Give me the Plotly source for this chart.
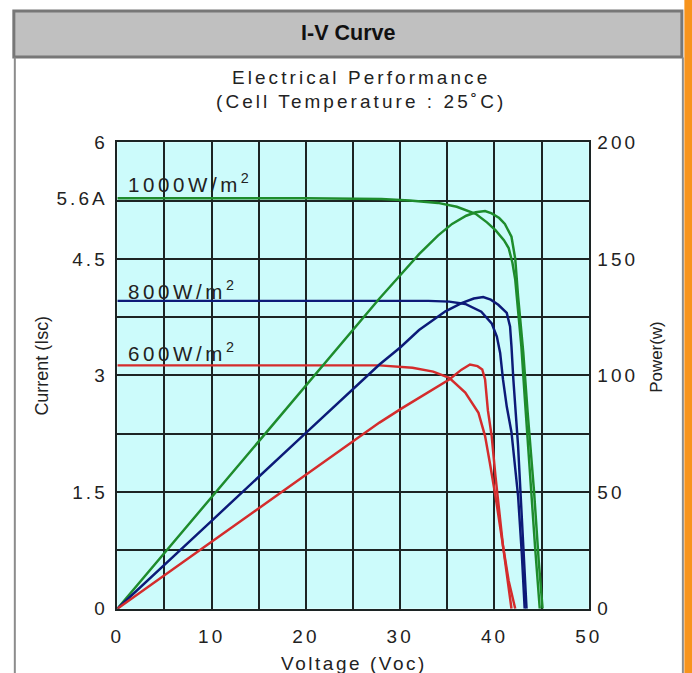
import plotly.graph_objects as go

W, H = 692, 673

# ---------------- data ----------------
# I-V curves: voltage (V) and current (A)
g_iv_v = [0, 10, 20, 28, 31, 34, 36, 38, 39.2, 40.1, 41, 41.5, 41.9, 42.2, 42.5, 42.85, 43.2, 43.5, 43.75, 44.3, 44.8]
g_iv_i = [5.28, 5.28, 5.28, 5.27, 5.25, 5.22, 5.17, 5.08, 4.97, 4.87, 4.74, 4.64, 4.45, 4.23, 3.81, 3.37, 2.73, 2.2, 1.67, 0.8, 0]

b_iv_v = [0, 10, 20, 30, 33, 35.2, 36.9, 38.6, 39.7, 40.25, 40.6, 40.9, 41.3, 41.8, 42.5, 42.9, 43.2]
b_iv_i = [3.96, 3.96, 3.96, 3.96, 3.96, 3.95, 3.92, 3.82, 3.67, 3.50, 3.29, 2.95, 2.6, 2.27, 1.45, 0.7, 0]

r_iv_v = [0, 10, 20, 27.8, 31.3, 33.5, 35.2, 36.9, 38.3, 39.0, 39.5, 40.1, 40.9, 41.4, 41.8]
r_iv_i = [3.13, 3.13, 3.13, 3.13, 3.10, 3.05, 2.97, 2.78, 2.52, 2.22, 1.88, 1.45, 0.81, 0.35, 0]

# Power curves: voltage (V) and power (W)
g_p_v = [0, 5, 10, 20, 27.8, 30, 32, 34, 35.5, 37, 38, 39, 39.7, 40.5, 41.1, 41.8, 42.2, 42.5, 43.05, 43.5, 44.2, 44.7, 45.1]
g_p_w = [0, 24, 48, 96, 133, 143, 152, 160, 165, 168.5, 170, 170.5, 169.5, 167.5, 165, 159.5, 150, 134, 110, 85, 50, 20, 0]

b_p_v = [0, 5, 10, 20, 27.8, 30, 32, 34.8, 36.5, 37.8, 38.8, 39.6, 40.4, 41.3, 41.65, 41.8, 42.0, 42.5, 43.05, 43.4]
b_p_w = [0, 19, 37.7, 75.4, 104.7, 112, 119.5, 127.5, 131, 133, 133.6, 132.5, 130.3, 126.8, 121, 112.5, 98.3, 69.8, 27, 0]

r_p_v = [0, 5, 10, 20, 27.8, 30.2, 33, 35.2, 36.5, 37.4, 38.2, 38.7, 39.0, 39.3, 39.7, 40.1, 40.9, 41.5, 42.2]
r_p_w = [0, 14.5, 28.7, 57.4, 79.8, 86, 93, 98.3, 102.5, 104.7, 104, 102.6, 98.3, 85, 74, 57, 27, 12, 0]

# axes / labels
x_ticks = [0, 5, 10, 15, 20, 25, 30, 35, 40, 45, 50]
x_labels = ["0", "", "10", "", "20", "", "30", "", "40", "", "50"]
yl_ticks = [0, 1.5, 3, 4.5, 5.28, 6]
yl_labels = ["0", "1.5", "3", "4.5", "5.6A", "6"]
yr_ticks = [0, 25, 50, 75, 100, 125, 150, 175, 200]
yr_labels = ["0", "", "50", "", "100", "", "150", "", "200"]
curve_labels = ["1000W/m", "800W/m", "600W/m"]
curve_label_y = [5.47, 4.1, 3.3]

GREEN = "#1e8c2c"
BLUE = "#0c1a78"
RED = "#d42c2c"
GRID = "#1c2424"
FONT = "Liberation Sans, Arial, sans-serif"

# the page is photographed slightly scaled: compensate so that marks land
# where they sit in the reference picture
SX, SY = 0.979, 0.972
OXR, OYR = 4.6, 9.3
K = 1 / ((SX + SY) / 2)


def fs(s):
    return round(s * K, 2)


def so(s):
    return int(round(s * K))


def spaced(t, sp):
    return t if t == "" else f'<span style="letter-spacing:{sp * K:.2f}px">{t}</span>'


def px(x):
    return (x - OXR) / SX / W


def py(y):
    return 1 - (y - OYR) / SY / H


fig = go.Figure()
for v, i, c in [(g_iv_v, g_iv_i, GREEN), (b_iv_v, b_iv_i, BLUE), (r_iv_v, r_iv_i, RED)]:
    fig.add_trace(go.Scatter(x=v, y=i, mode="lines", line=dict(color=c, width=fs(2.4)),
                             yaxis="y", showlegend=False, hoverinfo="skip"))
for v, p, c in [(g_p_v, g_p_w, GREEN), (b_p_v, b_p_w, BLUE), (r_p_v, r_p_w, RED)]:
    fig.add_trace(go.Scatter(x=v, y=p, mode="lines", line=dict(color=c, width=fs(2.4)),
                             yaxis="y2", showlegend=False, hoverinfo="skip"))

x0, x1 = 116, 592
y0, y1 = 142, 610
TICKFONT = dict(size=fs(18.5), color="#222", family=FONT)

fig.update_layout(
    width=W, height=H,
    margin=dict(l=0, r=0, t=0, b=0),
    paper_bgcolor="white",
    plot_bgcolor="#ccfbfb",
    font=dict(family=FONT, size=16, color="#222"),
    xaxis=dict(domain=[px(x0), px(x1)], range=[0, 50], tickvals=x_ticks,
               ticktext=[spaced(t, 3) for t in x_labels],
               showgrid=True, gridcolor=GRID, gridwidth=1.5, showline=True, mirror=True,
               linecolor=GRID, linewidth=1.5, zeroline=False, ticks="", ticklabelstandoff=so(10),
               tickfont=TICKFONT),
    yaxis=dict(domain=[py(y1), py(y0)], range=[0, 6], tickvals=yl_ticks,
               ticktext=[spaced(t, 3) for t in yl_labels],
               showgrid=False, showline=True, linecolor=GRID, linewidth=1.5, zeroline=False,
               ticks="", ticklabelstandoff=so(4), tickfont=TICKFONT),
    yaxis2=dict(overlaying="y", side="right", anchor="x", range=[0, 200], tickvals=yr_ticks,
                ticktext=[spaced(t, 3) for t in yr_labels], showgrid=True, gridcolor=GRID,
                gridwidth=1.5, showline=True, linecolor=GRID, linewidth=1.5, zeroline=False,
                ticks="", ticklabelstandoff=so(3), tickfont=TICKFONT),
)

shapes = [
    # orange bar at right edge
    dict(type="rect", xref="paper", yref="paper", x0=px(688.5), x1=1.05, y0=-0.05, y1=1.05,
         fillcolor="#f7941d", line=dict(width=0)),
    # header box
    dict(type="rect", xref="paper", yref="paper", x0=px(11.5), x1=px(686), y0=py(56.5), y1=1 - 1 / H,
         fillcolor="#c0c0c0", line=dict(color="#777777", width=3)),
    # panel borders
    dict(type="line", xref="paper", yref="paper", x0=px(12.5), x1=px(12.5), y0=-0.05, y1=py(57),
         line=dict(color="#8c8c8c", width=2)),
    dict(type="line", xref="paper", yref="paper", x0=px(687), x1=px(687), y0=-0.05, y1=py(57),
         line=dict(color="#8c8c8c", width=2)),
]
fig.update_layout(shapes=shapes)

ann = [
    dict(text="<b>I-V Curve</b>", x=px(349), y=py(32), font=dict(size=fs(21), color="#111", family=FONT)),
    dict(text=spaced("Electrical Performance", 3), x=px(362), y=py(77),
         font=dict(size=fs(18.5), color="#222", family=FONT)),
    dict(text=spaced("(Cell Temperature : 25˚C)", 3), x=px(362), y=py(101),
         font=dict(size=fs(18.5), color="#222", family=FONT)),
    dict(text="Current (Isc)", x=px(39), y=py(366), textangle=-90,
         font=dict(size=fs(17.5), color="#222", family=FONT)),
    dict(text="Power(w)", x=px(660), y=py(358), textangle=-90,
         font=dict(size=fs(16.5), color="#222", family=FONT)),
    dict(text=spaced("Voltage (Voc)", 2.5), x=px(355), y=py(665),
         font=dict(size=fs(18.5), color="#222", family=FONT)),
]
for a in ann:
    a.update(xref="paper", yref="paper", showarrow=False, xanchor="center", yanchor="middle")
for t, yy in zip(curve_labels, curve_label_y):
    ann.append(dict(text=spaced(t, 3.5) + "<sup>2</sup>", x=0.95, y=yy, xref="x", yref="y",
                    xanchor="left", yanchor="middle", showarrow=False,
                    font=dict(size=fs(20), color="#222", family=FONT)))
fig.update_layout(annotations=ann)

fig.write_html("out.html", config={"displayModeBar": False},
               post_script="document.body.style.margin='0';")
